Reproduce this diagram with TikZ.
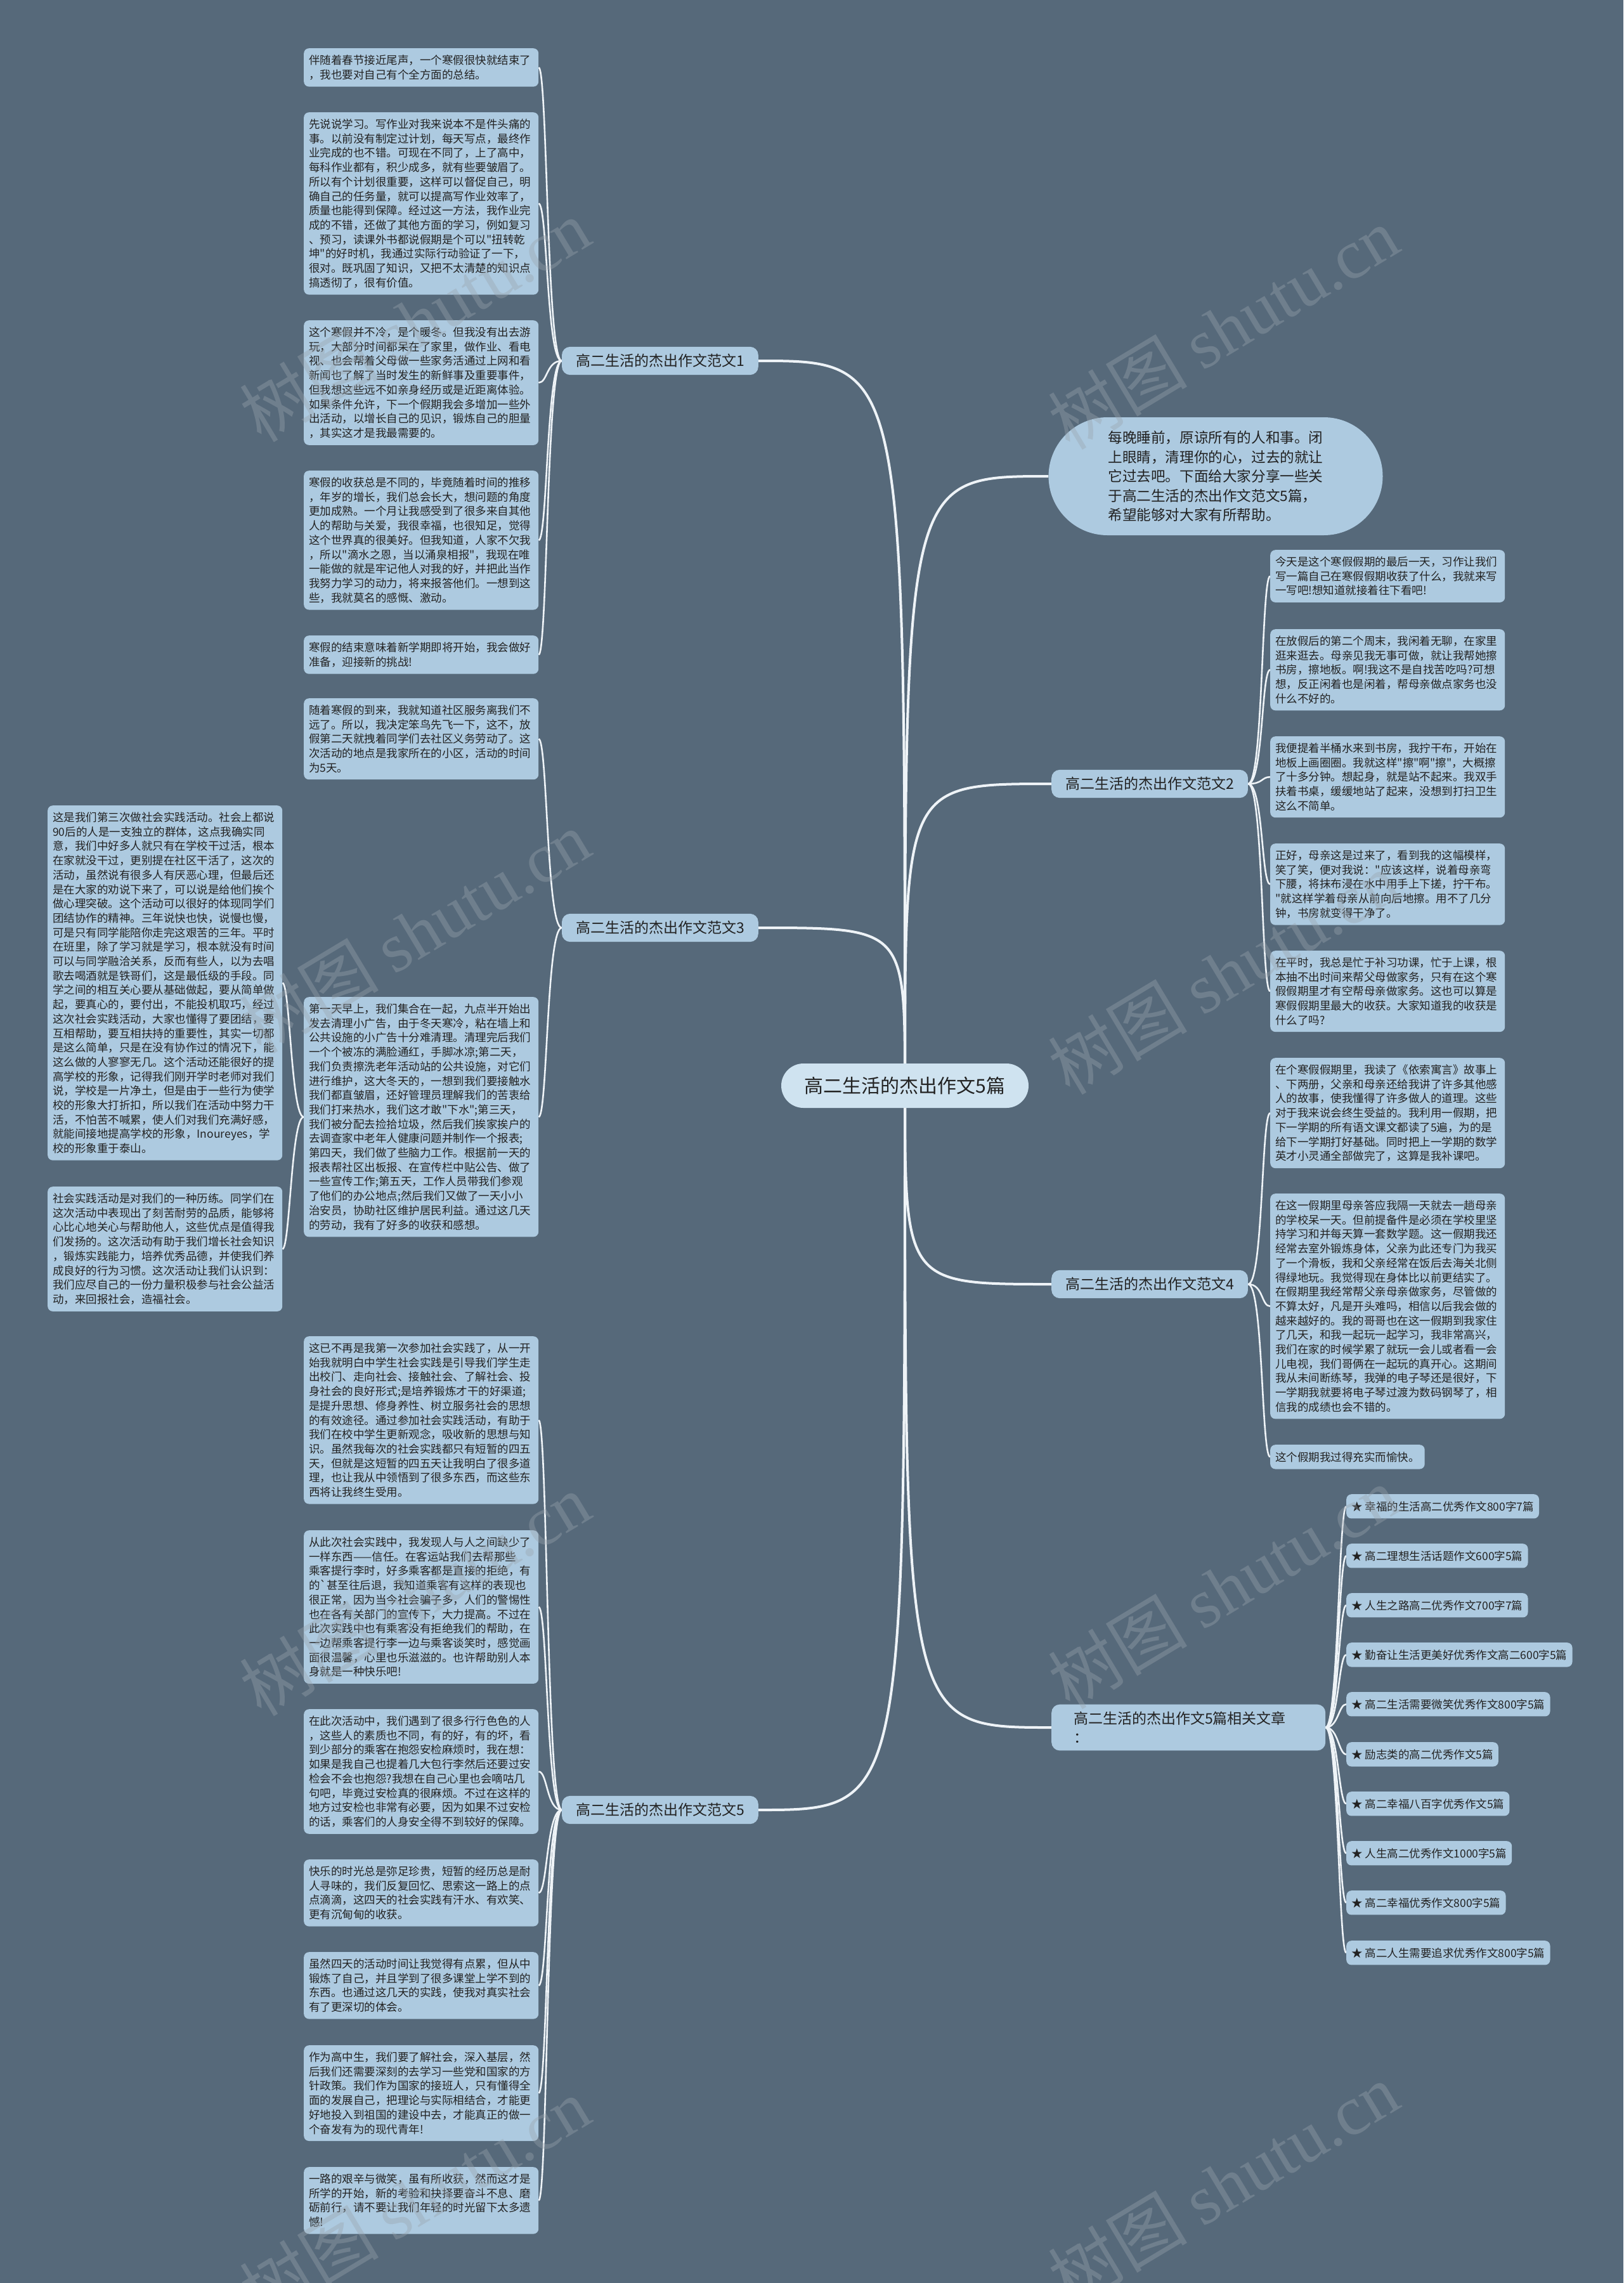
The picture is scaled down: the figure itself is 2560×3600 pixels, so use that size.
\documentclass[tikz,border=0pt]{standalone}
\usepackage{fontspec}
\newfontfamily\cjk{Noto Sans CJK SC}
\newfontfamily\wmserif{Liberation Serif}
\usetikzlibrary{backgrounds}
\definecolor{bgc}{HTML}{56697A}
\definecolor{boxc}{HTML}{ADCAE0}
\definecolor{ctrc}{HTML}{CFE3F0}
\definecolor{txtc}{HTML}{222222}
\definecolor{linec}{HTML}{EEF3F7}
\definecolor{wmc}{HTML}{9AA4AD}
\tikzset{
  leaf/.style={fill=boxc, rounded corners=8pt, align=left, text width=354pt,
    inner xsep=8pt, inner ysep=10.5pt, anchor=north west, text=txtc,
    font=\cjk\fontsize{17.5}{22.7}\selectfont},
  leafnat/.style={leaf, text width=},
  item/.style={fill=boxc, rounded corners=8pt, inner xsep=8pt, inner ysep=11pt,
    anchor=north west, text=txtc, font=\cjk\fontsize{17.5}{22.7}\selectfont},
  branch/.style={fill=boxc, rounded corners=13pt, inner xsep=22pt, inner ysep=11.5pt,
    text=txtc, font=\cjk\fontsize{23}{30}\selectfont},
  mainconn/.style={draw=linec, line width=4pt},
  leafconn/.style={draw=linec, line width=2.6pt},
  wm/.style={text=wmc, text opacity=0.38, font=\cjk\fontsize{110}{120}\selectfont, rotate=31}
}
\begin{document}
\begin{tikzpicture}[x=1pt,y=-1pt]
\useasboundingbox (0,0) rectangle (2560,3600);

% ---------- center ----------
\node[fill=ctrc, rounded corners=35pt, minimum width=390pt, minimum height=70pt, text=txtc,
  font=\cjk\fontsize{30}{36}\selectfont] (C) at (1427,1712) {高二生活的杰出作文5篇};

% ---------- intro ----------
\node[fill=boxc, rounded corners=93pt, minimum width=527pt, minimum height=186pt, align=left,
  text=txtc, font=\cjk\fontsize{22.6}{30.4}\selectfont] (I) at (1917,751)
  {每晚睡前，原谅所有的人和事。闭\\上眼睛，清理你的心，过去的就让\\它过去吧。下面给大家分享一些关\\于高二生活的杰出作文范文5篇，\\希望能够对大家有所帮助。};

% ---------- branches ----------
\node[branch, anchor=east] (L1) at (1196,569) {高二生活的杰出作文范文1};
\node[branch, anchor=east] (L3) at (1196,1463) {高二生活的杰出作文范文3};
\node[branch, anchor=east] (L5) at (1196,2854) {高二生活的杰出作文范文5};
\node[branch, anchor=west] (R2) at (1658,1236) {高二生活的杰出作文范文2};
\node[branch, anchor=west] (R4) at (1658,2025) {高二生活的杰出作文范文4};
\node[branch, anchor=west, align=left, text width=362pt, inner xsep=35pt] (RL) at (1658,2724)
  {高二生活的杰出作文5篇相关文章\\：};

% ---------- branch 1 leaves ----------
\node[leaf] (A1) at (479,76) {伴随着春节接近尾声，一个寒假很快就结束了\\，我也要对自己有个全方面的总结。};
\node[leaf] (A2) at (479,177) {先说说学习。写作业对我来说本不是件头痛的\\事。以前没有制定过计划，每天写点，最终作\\业完成的也不错。可现在不同了，上了高中，\\每科作业都有，积少成多，就有些要皱眉了。\\所以有个计划很重要，这样可以督促自己，明\\确自己的任务量，就可以提高写作业效率了，\\质量也能得到保障。经过这一方法，我作业完\\成的不错，还做了其他方面的学习，例如复习\\、预习，读课外书都说假期是个可以"扭转乾\\坤"的好时机，我通过实际行动验证了一下，\\很对。既巩固了知识，又把不太清楚的知识点\\搞透彻了，很有价值。};
\node[leaf] (A3) at (479,505) {这个寒假并不冷，是个暖冬。但我没有出去游\\玩，大部分时间都呆在了家里，做作业、看电\\视、也会帮着父母做一些家务活通过上网和看\\新闻也了解了当时发生的新鲜事及重要事件，\\但我想这些远不如亲身经历或是近距离体验。\\如果条件允许，下一个假期我会多增加一些外\\出活动，以增长自己的见识，锻炼自己的胆量\\，其实这才是我最需要的。};
\node[leaf] (A4) at (479,742) {寒假的收获总是不同的，毕竟随着时间的推移\\，年岁的增长，我们总会长大，想问题的角度\\更加成熟。一个月让我感受到了很多来自其他\\人的帮助与关爱，我很幸福，也很知足，觉得\\这个世界真的很美好。但我知道，人家不欠我\\，所以"滴水之恩，当以涌泉相报"，我现在唯\\一能做的就是牢记他人对我的好，并把此当作\\我努力学习的动力，将来报答他们。一想到这\\些，我就莫名的感慨、激动。};
\node[leaf] (A5) at (479,1002) {寒假的结束意味着新学期即将开始，我会做好\\准备，迎接新的挑战!};

% ---------- branch 3 leaves ----------
\node[leaf] (B1) at (479,1101) {随着寒假的到来，我就知道社区服务离我们不\\远了。所以，我决定笨鸟先飞一下，这不，放\\假第二天就拽着同学们去社区义务劳动了。这\\次活动的地点是我家所在的小区，活动的时间\\为5天。};
\node[leaf] (B2) at (479,1572) {第一天早上，我们集合在一起，九点半开始出\\发去清理小广告，由于冬天寒冷，粘在墙上和\\公共设施的小广告十分难清理。清理完后我们\\一个个被冻的满脸通红，手脚冰凉;第二天，\\我们负责擦洗老年活动站的公共设施，对它们\\进行维护，这大冬天的，一想到我们要接触水\\我们都直皱眉，还好管理员理解我们的苦衷给\\我们打来热水，我们这才敢"下水";第三天，\\我们被分配去捡拾垃圾，然后我们挨家挨户的\\去调查家中老年人健康问题并制作一个报表;\\第四天，我们做了些脑力工作。根据前一天的\\报表帮社区出板报、在宣传栏中贴公告、做了\\一些宣传工作;第五天，工作人员带我们参观\\了他们的办公地点;然后我们又做了一天小小\\治安员，协助社区维护居民利益。通过这几天\\的劳动，我有了好多的收获和感想。};
\node[leaf] (C1) at (75,1270) {这是我们第三次做社会实践活动。社会上都说\\90后的人是一支独立的群体，这点我确实同\\意，我们中好多人就只有在学校干过活，根本\\在家就没干过，更别提在社区干活了，这次的\\活动，虽然说有很多人有厌恶心理，但最后还\\是在大家的劝说下来了，可以说是给他们挨个\\做心理突破。这个活动可以很好的体现同学们\\团结协作的精神。三年说快也快，说慢也慢，\\可是只有同学能陪你走完这艰苦的三年。平时\\在班里，除了学习就是学习，根本就没有时间\\可以与同学融洽关系，反而有些人，以为去唱\\歌去喝酒就是铁哥们，这是最低级的手段。同\\学之间的相互关心要从基础做起，要从简单做\\起，要真心的，要付出，不能投机取巧，经过\\这次社会实践活动，大家也懂得了要团结，要\\互相帮助，要互相扶持的重要性，其实一切都\\是这么简单，只是在没有协作过的情况下，能\\这么做的人寥寥无几。这个活动还能很好的提\\高学校的形象，记得我们刚开学时老师对我们\\说，学校是一片净土，但是由于一些行为使学\\校的形象大打折扣，所以我们在活动中努力干\\活，不怕苦不喊累，使人们对我们充满好感，\\就能间接地提高学校的形象，Inoureyes，学\\校的形象重于泰山。};
\node[leaf] (C2) at (75,1871) {社会实践活动是对我们的一种历练。同学们在\\这次活动中表现出了刻苦耐劳的品质，能够将\\心比心地关心与帮助他人，这些优点是值得我\\们发扬的。这次活动有助于我们增长社会知识\\，锻炼实践能力，培养优秀品德，并使我们养\\成良好的行为习惯。这次活动让我们认识到：\\我们应尽自己的一份力量积极参与社会公益活\\动，来回报社会，造福社会。};

% ---------- branch 5 leaves ----------
\node[leaf] (D1) at (479,2107) {这已不再是我第一次参加社会实践了，从一开\\始我就明白中学生社会实践是引导我们学生走\\出校门、走向社会、接触社会、了解社会、投\\身社会的良好形式;是培养锻炼才干的好渠道;\\是提升思想、修身养性、树立服务社会的思想\\的有效途径。通过参加社会实践活动，有助于\\我们在校中学生更新观念，吸收新的思想与知\\识。虽然我每次的社会实践都只有短暂的四五\\天，但就是这短暂的四五天让我明白了很多道\\理，也让我从中领悟到了很多东西，而这些东\\西将让我终生受用。};
\node[leaf] (D2) at (479,2413) {从此次社会实践中，我发现人与人之间缺少了\\一样东西——信任。在客运站我们去帮那些\\乘客提行李时，好多乘客都是直接的拒绝，有\\的`甚至往后退，我知道乘客有这样的表现也\\很正常，因为当今社会骗子多，人们的警惕性\\也在各有关部门的宣传下，大力提高。不过在\\此次实践中也有乘客没有拒绝我们的帮助，在\\一边帮乘客提行李一边与乘客谈笑时，感觉画\\面很温馨，心里也乐滋滋的。也许帮助别人本\\身就是一种快乐吧!};
\node[leaf] (D3) at (479,2695) {在此次活动中，我们遇到了很多行行色色的人\\，这些人的素质也不同，有的好，有的坏，看\\到少部分的乘客在抱怨安检麻烦时，我在想：\\如果是我自己也提着几大包行李然后还要过安\\检会不会也抱怨?我想在自己心里也会嘀咕几\\句吧，毕竟过安检真的很麻烦。不过在这样的\\地方过安检也非常有必要，因为如果不过安检\\的话，乘客们的人身安全得不到较好的保障。};
\node[leaf] (D4) at (479,2932) {快乐的时光总是弥足珍贵，短暂的经历总是耐\\人寻味的，我们反复回忆、思索这一路上的点\\点滴滴，这四天的社会实践有汗水、有欢笑、\\更有沉甸甸的收获。};
\node[leaf] (D5) at (479,3078) {虽然四天的活动时间让我觉得有点累，但从中\\锻炼了自己，并且学到了很多课堂上学不到的\\东西。也通过这几天的实践，使我对真实社会\\有了更深切的体会。};
\node[leaf] (D6) at (479,3225) {作为高中生，我们要了解社会，深入基层，然\\后我们还需要深刻的去学习一些党和国家的方\\针政策。我们作为国家的接班人，只有懂得全\\面的发展自己，把理论与实际相结合，才能更\\好地投入到祖国的建设中去，才能真正的做一\\个奋发有为的现代青年!};
\node[leaf] (D7) at (479,3417) {一路的艰辛与微笑，虽有所收获，然而这才是\\所学的开始，新的考验和抉择要奋斗不息、磨\\砺前行，请不要让我们年轻的时光留下太多遗\\憾!};

% ---------- branch 2 leaves ----------
\node[leaf] (E1) at (2003,867) {今天是这个寒假假期的最后一天，习作让我们\\写一篇自己在寒假假期收获了什么，我就来写\\一写吧!想知道就接着往下看吧!};
\node[leaf] (E2) at (2003,992) {在放假后的第二个周末，我闲着无聊，在家里\\逛来逛去。母亲见我无事可做，就让我帮她擦\\书房，擦地板。啊!我这不是自找苦吃吗?可想\\想，反正闲着也是闲着，帮母亲做点家务也没\\什么不好的。};
\node[leaf] (E3) at (2003,1161) {我便提着半桶水来到书房，我拧干布，开始在\\地板上画圈圈。我就这样"擦"啊"擦"，大概擦\\了十多分钟。想起身，就是站不起来。我双手\\扶着书桌，缓缓地站了起来，没想到打扫卫生\\这么不简单。};
\node[leaf] (E4) at (2003,1330) {正好，母亲这是过来了，看到我的这幅模样，\\笑了笑，便对我说："应该这样，说着母亲弯\\下腰，将抹布浸在水中用手上下搓，拧干布。\\"就这样学着母亲从前向后地擦。用不了几分\\钟，书房就变得干净了。};
\node[leaf] (E5) at (2003,1499) {在平时，我总是忙于补习功课，忙于上课，根\\本抽不出时间来帮父母做家务，只有在这个寒\\假假期里才有空帮母亲做家务。这也可以算是\\寒假假期里最大的收获。大家知道我的收获是\\什么了吗?};

% ---------- branch 4 leaves ----------
\node[leaf] (F1) at (2003,1668) {在个寒假假期里，我读了《依索寓言》故事上\\、下两册，父亲和母亲还给我讲了许多其他感\\人的故事，使我懂得了许多做人的道理。这些\\对于我来说会终生受益的。我利用一假期，把\\下一学期的所有语文课文都读了5遍，为的是\\给下一学期打好基础。同时把上一学期的数学\\英才小灵通全部做完了，这算是我补课吧。};
\node[leaf] (F2) at (2003,1882) {在这一假期里母亲答应我隔一天就去一趟母亲\\的学校呆一天。但前提备件是必须在学校里坚\\持学习和并每天算一套数学题。这一假期我还\\经常去室外锻炼身体，父亲为此还专门为我买\\了一个滑板，我和父亲经常在饭后去海关北侧\\得绿地玩。我觉得现在身体比以前更结实了。\\在假期里我经常帮父亲母亲做家务，尽管做的\\不算太好，凡是开头难吗，相信以后我会做的\\越来越好的。我的哥哥也在这一假期到我家住\\了几天，和我一起玩一起学习，我非常高兴，\\我们在家的时候学累了就玩一会儿或者看一会\\儿电视，我们哥俩在一起玩的真开心。这期间\\我从未间断练琴，我弹的电子琴还是很好，下\\一学期我就要将电子琴过渡为数码钢琴了，相\\信我的成绩也会不错的。};
\node[item] (F3) at (2003,2278) {这个假期我过得充实而愉快。};

% ---------- related articles ----------
\node[item] (G1) at (2123,2356) {★ 幸福的生活高二优秀作文800字7篇};
\node[item] (G2) at (2123,2434) {★ 高二理想生活话题作文600字5篇};
\node[item] (G3) at (2123,2512) {★ 人生之路高二优秀作文700字7篇};
\node[item] (G4) at (2123,2590) {★ 勤奋让生活更美好优秀作文高二600字5篇};
\node[item] (G5) at (2123,2668) {★ 高二生活需要微笑优秀作文800字5篇};
\node[item] (G6) at (2123,2747) {★ 励志类的高二优秀作文5篇};
\node[item] (G7) at (2123,2825) {★ 高二幸福八百字优秀作文5篇};
\node[item] (G8) at (2123,2903) {★ 人生高二优秀作文1000字5篇};
\node[item] (G9) at (2123,2981) {★ 高二幸福优秀作文800字5篇};
\node[item] (G10) at (2123,3060) {★ 高二人生需要追求优秀作文800字5篇};

% ---------- connectors (behind) ----------
\begin{scope}[on background layer]
\fill[bgc] (0,0) rectangle (2560,3600);
\foreach \b in {L1,L3,L5} {
  \draw[mainconn] (C.center) .. controls (C.center |- \b.east) .. (\b.east);
}
\draw[mainconn] (C.center) .. controls (C.center |- I.west) .. (I.west);
\foreach \b in {R2,R4,RL} {
  \draw[mainconn] (C.center) .. controls (C.center |- \b.west) .. (\b.west);
}
\foreach \c in {A1,A2,A3,A4,A5} {
  \draw[leafconn] (L1.west) .. controls +(-24,0) and +(14,0) .. (\c.east);
}
\foreach \c in {B1,B2} {
  \draw[leafconn] (L3.west) .. controls +(-24,0) and +(14,0) .. (\c.east);
}
\foreach \c in {C1,C2} {
  \draw[leafconn] (B2.west) .. controls +(-20,0) and +(12,0) .. (\c.east);
}
\foreach \c in {D1,D2,D3,D4,D5,D6,D7} {
  \draw[leafconn] (L5.west) .. controls +(-24,0) and +(14,0) .. (\c.east);
}
\foreach \c in {E1,E2,E3,E4,E5} {
  \draw[leafconn] (R2.east) .. controls +(24,0) and +(-14,0) .. (\c.west);
}
\foreach \c in {F1,F2,F3} {
  \draw[leafconn] (R4.east) .. controls +(24,0) and +(-14,0) .. (\c.west);
}
\foreach \c in {G1,G2,G3,G4,G5,G6,G7,G8,G9,G10} {
  \draw[leafconn] (RL.east) .. controls +(20,0) and +(-12,0) .. (\c.west);
}
\end{scope}

% ---------- watermark ----------
\node[wm] (W1) at (654,505) {树图 {\wmserif shutu.cn}};
\node[wm] (W2) at (1929,517) {树图 {\wmserif shutu.cn}};
\node[wm] (W3) at (654,1469) {树图 {\wmserif shutu.cn}};
\node[wm] (W4) at (1929,1534) {树图 {\wmserif shutu.cn}};
\node[wm] (W5) at (654,2514) {树图 {\wmserif shutu.cn}};
\node[wm] (W6) at (1929,2503) {树图 {\wmserif shutu.cn}};
\node[wm] (W7) at (654,3467) {树图 {\wmserif shutu.cn}};
\node[wm] (W8) at (1929,3444) {树图 {\wmserif shutu.cn}};
\end{tikzpicture}
\end{document}
